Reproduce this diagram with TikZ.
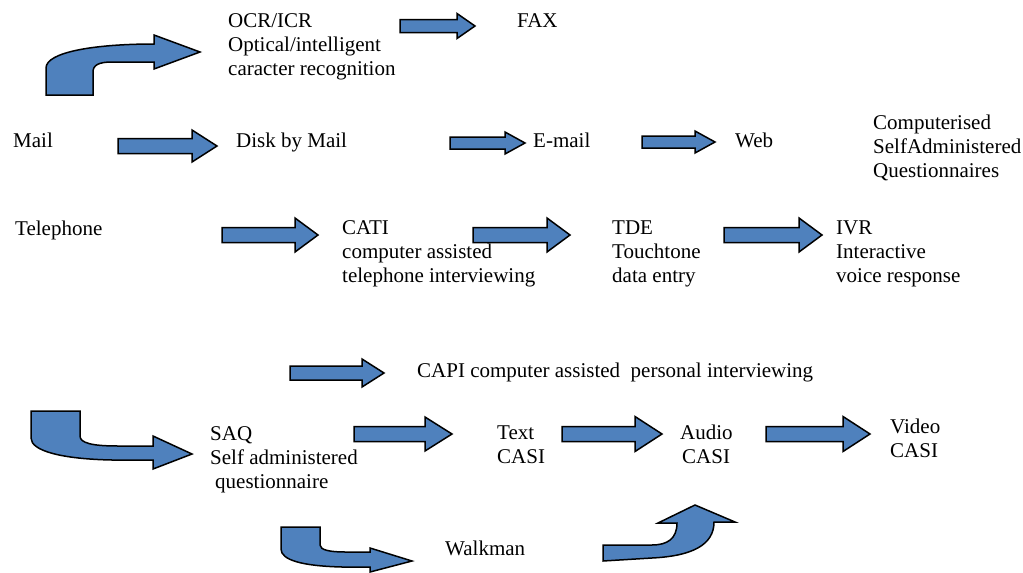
\documentclass[tikz,border=0pt]{standalone}
\usepackage{fontspec}
\setmainfont{Liberation Serif}
\definecolor{arrowblue}{RGB}{79,129,189}
\tikzset{
  blk/.style={draw=black, fill=arrowblue, line width=1.5pt, line join=miter},
  lbl/.style={anchor=base west, inner sep=0pt, align=left, font=\fontsize{21}{23.8}\selectfont}
}
\newcommand\blkarrow[6]{%
  \draw[blk] (#1,#4-#5) -- (#3,#4-#5) -- (#3,#4-#6) -- (#2,#4) -- (#3,#4+#6) -- (#3,#4+#5) -- (#1,#4+#5) -- cycle;}
\begin{document}
\begin{tikzpicture}[x=1pt,y=-1pt]
\useasboundingbox (0,0) rectangle (1023,573);
% labels (base anchor = baseline of the last line)
\node[lbl] (ocr) at (228,75) {OCR/ICR\\Optical/intelligent\\caracter recognition};
\node[lbl] (fax) at (517,27) {FAX};
\node[lbl] (mail) at (13,147) {Mail};
\node[lbl] (disk) at (236,147) {Disk by Mail};
\node[lbl] (email) at (533,147) {E-mail};
\node[lbl] (web) at (735,147) {Web};
\node[lbl] (csaq) at (873,177) {Computerised\\SelfAdministered\\Questionnaires};
\node[lbl] (tel) at (15,235) {Telephone};
\node[lbl] (cati) at (342,282) {CATI\\computer assisted\\telephone interviewing};
\node[lbl] (tde) at (612,282) {TDE\\Touchtone\\data entry};
\node[lbl] (ivr) at (836,282) {IVR\\Interactive\\voice response};
\node[lbl] (capi) at (417,377) {CAPI computer assisted\ \ personal interviewing};
\node[lbl] (saq) at (210,488) {SAQ\\Self administered\\\hspace{5pt}questionnaire};
\node[lbl] (text) at (497,463) {Text\\CASI};
\node[lbl] (audio) at (680,463) {Audio\\\hspace{2pt}CASI};
\node[lbl] (video) at (890,457) {Video\\CASI};
\node[lbl] (walk) at (445,555) {Walkman};
% straight block arrows
\blkarrow{400}{475}{457}{26}{6.5}{12.5}
\blkarrow{118}{217}{192}{146}{7.5}{16}
\blkarrow{450}{525}{505}{143}{6}{11}
\blkarrow{642}{715}{695}{142}{6}{11}
\blkarrow{222}{318}{295}{235}{7.5}{17}
\blkarrow{473}{570}{547}{235}{7.5}{17}
\blkarrow{724}{822}{799}{235}{7.5}{17}
\blkarrow{290}{384}{362}{373}{7}{14}
\blkarrow{354}{452}{425}{434}{7.5}{17}
\blkarrow{562}{662}{635}{434}{7.5}{17.5}
\blkarrow{766}{870}{843}{434}{7.5}{17.5}
% curved arrows
\draw[blk] (46,95) -- (46,68) .. controls (46,52) and (95,44) .. (154,44) -- (154,35) -- (200,52) -- (154,69) -- (154,62) -- (112,62) .. controls (99,62) and (93,65) .. (93,72) -- (93,95) -- cycle;
\draw[blk] (31,411) -- (80,411) -- (80,436) .. controls (80,443) and (92,446) .. (118,446) -- (153,446) -- (153,436) -- (192,454) -- (153,469) -- (153,460) -- (112,460) .. controls (62,459) and (31,451) .. (31,438) -- cycle;
\draw[blk] (281,527) -- (320,527) -- (320,545) .. controls (320,550) and (330,552) .. (345,552) -- (370,552) -- (370,548) -- (412,561) -- (370,572) -- (370,567) -- (342,567) .. controls (302,566) and (281,560) .. (281,549) -- cycle;
\draw[blk] (603,545) -- (652,545) .. controls (667,545) and (677,539) .. (677,523) -- (658,523) -- (695,505) -- (735,522) -- (714,522) .. controls (714,545) and (692,556) .. (652,558) -- (603,561) -- cycle;
\end{tikzpicture}
\end{document}
